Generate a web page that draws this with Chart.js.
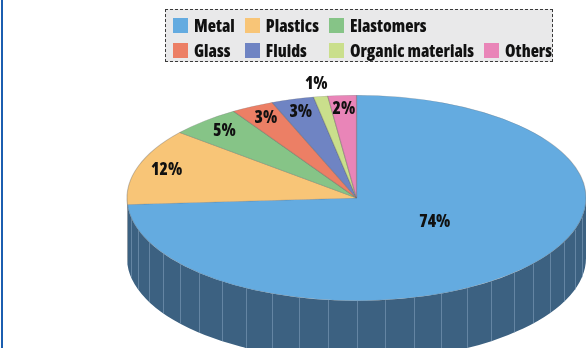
<!DOCTYPE html>
<html>
<head>
<meta charset="utf-8">
<script src="https://cdn.jsdelivr.net/npm/chart.js@4.4.1/dist/chart.umd.min.js"></script>
<style>
  body { margin: 0; background: #fff; }
  #wrap { position: relative; width: 586px; height: 348px; overflow: hidden; }
  /* blue rule on the left side of the frame */
  #wrap::before { content: ''; position: absolute; left: 1px; top: 0; bottom: 0; width: 2px; background: #1b5eb0; }
  #legenda {
    position: absolute; left: 165px; top: 9px; width: 388px; height: 53px; box-sizing: border-box;
    border: 1px dashed #3a3a3a; background: #e9e9ea; padding: 8px 0 0 7px;
    display: grid; grid-template-columns: repeat(4, auto); justify-content: start;
    column-gap: 10px; row-gap: 7px;
    font-family: "Open Sans", sans-serif; font-weight: 800; font-size: 17px; font-stretch: 75%;
    color: #111;
  }
  .item { display: flex; align-items: center; height: 15px; white-space: nowrap; }
  .cor { width: 15px; height: 15px; margin-right: 6px; flex: none; }
</style>
</head>
<body>
<div id="wrap">
  <canvas id="grafico" width="586" height="348"></canvas>
  <div id="legenda"></div>
</div>
<script>
const categorias = ['Metal', 'Plastics', 'Elastomers', 'Glass', 'Fluids', 'Organic materials', 'Others'];
const percentuais = [74, 12, 5, 3, 3, 1, 2];
const cores = ['#64abe0', '#f8c577', '#86c487', '#ec7f65', '#6f84c3', '#cadf8c', '#e985b8'];
const itensPorLinha = [3, 4]; // legend rows

const PROFUNDIDADE = 60;          // height of the side wall
const PASSO = Math.PI / 25;       // spacing of the facet lines on the side

function escurecer(hex, f = 0.6) {
  const n = parseInt(hex.slice(1), 16);
  const r = Math.round(((n >> 16) & 255) * f);
  const g = Math.round(((n >> 8) & 255) * f * 0.95);
  const b = Math.round((n & 255) * f * 0.96);
  return `rgb(${r}, ${g}, ${b})`;
}

// Pie drawn as a flattened disc with a side wall
const pizza3d = {
  id: 'pizza3d',
  beforeDatasetsDraw(chart) {
    const ctx = chart.ctx;
    const arcos = chart.getDatasetMeta(0).data;
    const area = chart.chartArea;
    const cx = arcos[0].x, cy = arcos[0].y;
    const ry = arcos[0].outerRadius;
    const rx = (area.right - area.left) / 2;

    // only the front half of the wall (0..PI) can be seen
    arcos.forEach((arco, i) => {
      const a0 = Math.max(arco.startAngle, 0);
      const a1 = Math.min(arco.endAngle, Math.PI);
      if (a1 <= a0) return;
      ctx.beginPath();
      ctx.ellipse(cx, cy, rx, ry, 0, a0, a1);
      ctx.ellipse(cx, cy + PROFUNDIDADE, rx, ry, 0, a1, a0, true);
      ctx.closePath();
      ctx.fillStyle = escurecer(cores[i]);
      ctx.fill();

      ctx.strokeStyle = 'rgba(140, 170, 198, 0.5)';
      ctx.lineWidth = 1;
      for (let a = PASSO / 2; a < Math.PI; a += PASSO) {
        if (a <= a0 || a >= a1) continue;
        const x = Math.round(cx + rx * Math.cos(a)) + 0.5;
        const y = cy + ry * Math.sin(a);
        ctx.beginPath();
        ctx.moveTo(x, y);
        ctx.lineTo(x, y + PROFUNDIDADE);
        ctx.stroke();
      }
    });

    // stretch the round pie into an ellipse for the top face
    ctx.save();
    ctx.translate(cx, cy);
    ctx.scale(rx / ry, 1);
    ctx.translate(-cx, -cy);
  },
  afterDatasetsDraw(chart) {
    const ctx = chart.ctx;
    ctx.restore();

    const arcos = chart.getDatasetMeta(0).data;
    const area = chart.chartArea;
    const cx = arcos[0].x, cy = arcos[0].y;
    const ry = arcos[0].outerRadius;
    const rx = (area.right - area.left) / 2;

    ctx.save();
    ctx.font = '800 condensed 17px "Open Sans", sans-serif';
    ctx.fontStretch = 'condensed';
    ctx.fillStyle = '#111';
    ctx.textAlign = 'center';
    ctx.textBaseline = 'middle';
    arcos.forEach((arco, i) => {
      const v = chart.data.datasets[0].data[i];
      const meio = (arco.startAngle + arco.endAngle) / 2;
      let f = 0.87;
      if (v >= 50) f = 0.42;      // big slice: label nearer the middle
      else if (v < 2) f = 1.12;   // too thin, label goes outside
      ctx.fillText(v + '%', cx + rx * f * Math.cos(meio) + (v >= 50 ? 8 : 0), cy + ry * f * Math.sin(meio) - (v >= 50 ? 5 : 0));
    });
    ctx.restore();
  }
};

const grafico = new Chart(document.getElementById('grafico'), {
  type: 'pie',
  data: {
    labels: categorias,
    datasets: [{
      data: percentuais,
      backgroundColor: cores,
      borderColor: 'rgba(90, 90, 90, 0.35)',
      borderWidth: 0.5
    }]
  },
  options: {
    responsive: false,
    animation: false,
    events: [],
    layout: { padding: { left: 127, right: 0, top: 95, bottom: 47 } },
    plugins: {
      legend: { display: false },
      tooltip: { enabled: false }
    }
  },
  plugins: [pizza3d]
});

// legend as html, two rows
const legenda = document.getElementById('legenda');
grafico.data.labels.forEach((nome, i) => {
  if (i === itensPorLinha[0]) {
    for (let k = itensPorLinha[0]; k < itensPorLinha[1]; k++) legenda.appendChild(document.createElement('span'));
  }
  const item = document.createElement('div');
  item.className = 'item';
  const cor = document.createElement('span');
  cor.className = 'cor';
  cor.style.background = grafico.data.datasets[0].backgroundColor[i];
  item.appendChild(cor);
  item.appendChild(document.createTextNode(nome));
  legenda.appendChild(item);
});
</script>
</body>
</html>
